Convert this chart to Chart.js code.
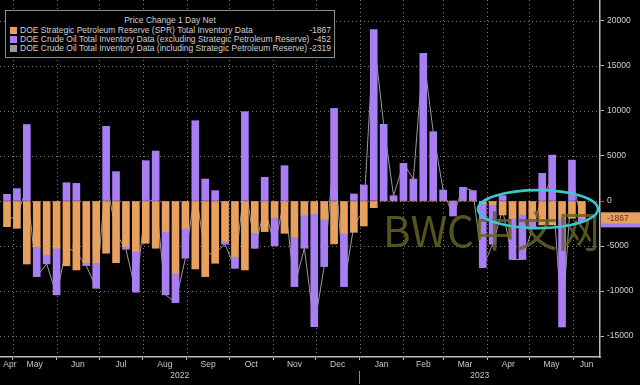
<!DOCTYPE html>
<html>
<head>
<meta charset="utf-8">
<title>DOE inventory change</title>
<script src="https://cdn.jsdelivr.net/npm/chart.js@4.4.0/dist/chart.umd.min.js"></script>
<style>
  html, body { margin: 0; padding: 0; background: #000; }
  #wrap { position: relative; width: 640px; height: 385px; background: #000; }
  #legend {
    position: absolute; left: 5px; top: 10px; width: 328px; height: 46px;
    border: 1px solid #8c8c8c; background: #000; color: #d0d0d0;
    font: 8.5px "Liberation Sans Narrow", "Liberation Sans", sans-serif;
  }
  #legend .title { position: absolute; left: 0; right: 0; top: 5px; text-align: center; line-height: 9px; }
  #legend .row { position: absolute; left: 4px; right: 3px; height: 9px; line-height: 9px; }
  #legend .sw { position: absolute; left: 0; top: 1px; width: 7px; height: 7px; }
  #legend .name { position: absolute; left: 10px; }
  #legend .val { position: absolute; right: 0; }
</style>
</head>
<body>
<div id="wrap">
  <canvas id="inv-chart" width="640" height="385"></canvas>
  <div id="legend"></div>
</div>
<script>
// weekly report dates
const weeks = [
  '2022-04-27', '2022-05-04', '2022-05-11', '2022-05-18', '2022-05-25',
  '2022-06-01', '2022-06-08', '2022-06-15', '2022-06-22', '2022-06-29',
  '2022-07-06', '2022-07-13', '2022-07-20', '2022-07-27', '2022-08-03',
  '2022-08-10', '2022-08-17', '2022-08-24', '2022-08-31', '2022-09-07',
  '2022-09-14', '2022-09-21', '2022-09-28', '2022-10-05', '2022-10-12',
  '2022-10-19', '2022-10-26', '2022-11-02', '2022-11-09', '2022-11-16',
  '2022-11-23', '2022-11-30', '2022-12-07', '2022-12-14', '2022-12-21',
  '2022-12-28', '2023-01-04', '2023-01-11', '2023-01-18', '2023-01-25',
  '2023-02-01', '2023-02-08', '2023-02-15', '2023-02-22', '2023-03-01',
  '2023-03-08', '2023-03-15', '2023-03-22', '2023-03-29', '2023-04-05',
  '2023-04-12', '2023-04-19', '2023-04-26', '2023-05-03', '2023-05-10',
  '2023-05-17', '2023-05-24', '2023-05-31', '2023-06-07'
];

// thousand barrels
const sprChange = [
  -2850, -3030, -7000, -5070, -5920, -5250, -7200, -7660, -6850, -6850,
  -5800, -6850, -5070, -5620, -4700, -5250, -3400, -8030, -3030, -7550,
  -8400, -6920, -4510, -6180, -7660, -3520, -3400, -1810, -3590, -3960,
  -1550, -1370, -2040, -4770, -3590, -3480, -2780, -740, 0, 0,
  0, 0, 0, 0, 0, 0, 0, 0, -300, -400,
  -1550, -1900, -1500, -2100, -2650, -2650, -2000, -1920, -1867
];
const crudeExSpr = [
  740, 1370, 8500, -3330, -1070, -5180, 2030, 1960, -330, -2850,
  8300, 3260, -300, -4510, 4480, 5550, -7030, -3260, -3330, 8920,
  2440, 1150, -300, -1300, 9920, -1740, 2630, -3180, 3920, -5550,
  -3700, -12580, -5250, 10290, -5920, 780, 1780, 19060, 8520, 590,
  4180, 2440, 16400, 7700, 1220, -1670, 1520, 1150, -7100, -4400,
  600, -4600, -5000, -1000, 3070, 5100, -12000, 4550, -452
];
const crudeInclSpr = sprChange.map((v, i) => v + crudeExSpr[i]);

const seriesNames = [
  'DOE Strategic Petroleum Reserve (SPR) Total Inventory Data',
  'DOE Crude Oil Total Inventory Data (excluding Strategic Petroleum Reserve)',
  'DOE Crude Oil Total Inventory Data (including Strategic Petroleum Reserve)'
];
const seriesColors = ['#e8a05e', '#a87ef2', '#9a9a9a'];
const monthNames = ['Apr', 'May', 'Jun', 'Jul', 'Aug', 'Sep', 'Oct', 'Nov', 'Dec',
  'Jan', 'Feb', 'Mar', 'Apr', 'May', 'Jun'];
const yearLabels = ['2022', '2023'];
const yTickValues = [-15000, -10000, -5000, 0, 5000, 10000, 15000, 20000];

const FONT = '"Liberation Sans Narrow", "Liberation Sans", sans-serif';
const GRID = '#7c7c7c';
const DAY = 86400000;
const origin = Date.UTC(2022, 3, 27);
const toDay = (y, m, d) => (Date.UTC(y, m, d) - origin) / DAY;
const parseDay = s => {
  const [y, m, d] = s.split('-').map(Number);
  return toDay(y, m - 1, d);
};

const xMin = -4.94;
const xMax = 418.8;

// month boundaries and centres of the visible part of each month
const monthStarts = [];
const monthCenters = [];
for (let i = 0; i < monthNames.length; i++) {
  const start = toDay(2022, 3 + i, 1);
  const end = toDay(2022, 4 + i, 1);
  if (i > 0) monthStarts.push(start);
  // keep the partial first month label clear of the left edge
  const lo = Math.max(start, xMin);
  const hi = Math.min(end, xMax);
  monthCenters.push(Math.max((lo + hi) / 2, xMin + 7));
}
const jan1 = toDay(2023, 0, 1);
const yearTicks = [(xMin + jan1) / 2, jan1, (jan1 + xMax) / 2];

const pts = arr => arr.map((v, i) => ({ x: parseDay(weeks[i]), y: v }));

const noPad = s => { s.paddingLeft = 0; s.paddingRight = 0; };

const overlay = {
  id: 'overlay',
  beforeDatasetsDraw(chart) {
    // dotted grid at month boundaries and y ticks
    const { ctx, chartArea: a } = chart;
    const x = chart.scales.x;
    const y = chart.scales.y;
    ctx.save();
    ctx.strokeStyle = GRID;
    ctx.lineWidth = 1;
    ctx.setLineDash([1, 3]);
    ctx.beginPath();
    monthStarts.forEach(v => {
      const px = Math.round(x.getPixelForValue(v)) + 0.5;
      ctx.moveTo(px, a.top);
      ctx.lineTo(px, a.bottom);
    });
    yTickValues.forEach(v => {
      const py = Math.round(y.getPixelForValue(v)) + 0.5;
      ctx.moveTo(a.left, py);
      ctx.lineTo(a.right, py);
    });
    ctx.stroke();
    ctx.restore();
  },
  afterDatasetsDraw(chart) {
    const { ctx } = chart;
    const x = chart.scales.x;
    const y = chart.scales.y;
    ctx.save();
    // watermark
    ctx.font = '42px "Noto Sans CJK SC", "Noto Sans", sans-serif';
    ctx.fillStyle = 'rgba(100, 98, 36, 0.85)';
    ctx.textBaseline = 'alphabetic';
    ctx.fillText('BWC中文网', 383, 247);
    // highlight ring
    ctx.beginPath();
    ctx.ellipse(x.getPixelForValue(parseDay('2023-05-07')), y.getPixelForValue(-900),
      60, 19, 0, 0, Math.PI * 2);
    ctx.strokeStyle = '#3ec6ca';
    ctx.lineWidth = 2.6;
    ctx.stroke();
    ctx.restore();
  },
  afterDraw(chart) {
    const { ctx } = chart;
    const y = chart.scales.y;
    const n = weeks.length - 1;
    const left = y.left + 1;
    ctx.save();
    let py = y.getPixelForValue(crudeInclSpr[n]);
    ctx.fillStyle = seriesColors[1];
    ctx.fillRect(left, py - 5.5, chart.width - left, 11);
    py = y.getPixelForValue(sprChange[n]);
    ctx.fillStyle = seriesColors[0];
    ctx.fillRect(left, py - 5.5, chart.width - left, 11);
    ctx.fillStyle = '#5a3a14';
    ctx.font = '8.5px ' + FONT;
    ctx.textBaseline = 'middle';
    ctx.fillText(String(sprChange[n]), left + 6, py + 0.5);
    ctx.restore();
  }
};

const ctx = document.getElementById('inv-chart').getContext('2d');
new Chart(ctx, {
  type: 'bar',
  data: {
    datasets: [
      {
        label: seriesNames[0],
        data: pts(sprChange),
        backgroundColor: seriesColors[0],
        stack: 'inv',
        order: 0,
        barThickness: 7,
        xAxisID: 'x',
        yAxisID: 'y'
      },
      {
        label: seriesNames[1],
        data: pts(crudeExSpr),
        backgroundColor: seriesColors[1],
        stack: 'inv',
        order: 0,
        barThickness: 7,
        xAxisID: 'x',
        yAxisID: 'y'
      },
      {
        type: 'line',
        label: seriesNames[2],
        data: pts(crudeInclSpr),
        borderColor: seriesColors[2],
        borderWidth: 1,
        pointRadius: 0,
        tension: 0,
        stack: 'total',
        order: 1,
        xAxisID: 'x',
        yAxisID: 'y'
      }
    ]
  },
  options: {
    responsive: false,
    animation: false,
    layout: { padding: 0 },
    plugins: { legend: { display: false }, tooltip: { enabled: false } },
    scales: {
      x: {
        type: 'linear', min: xMin, max: xMax, stacked: true, weight: 0, offset: false,
        afterBuildTicks: s => { s.ticks = monthStarts.map(v => ({ value: v })); },
        afterFit: s => { s.height = 3; noPad(s); },
        ticks: { display: false },
        grid: { offset: false, drawOnChartArea: false, tickLength: 3, tickColor: '#bdbdbd' },
        border: { color: '#bdbdbd', width: 1.5 }
      },
      xm: {
        type: 'linear', min: xMin, max: xMax, weight: 1, offset: false,
        afterBuildTicks: s => { s.ticks = monthCenters.map(v => ({ value: v })); },
        afterFit: s => { s.height = 11; noPad(s); },
        ticks: {
          autoSkip: false, maxRotation: 0, padding: 0, color: '#c8c8c8',
          font: { size: 8.5, family: FONT },
          callback: v => monthNames[monthCenters.indexOf(v)]
        },
        grid: { display: false, offset: false, drawTicks: false, tickLength: 0 },
        border: { display: false }
      },
      xy: {
        type: 'linear', min: xMin, max: xMax, weight: 2, offset: false,
        afterBuildTicks: s => { s.ticks = yearTicks.map(v => ({ value: v })); },
        afterFit: s => { s.height = 14; noPad(s); },
        ticks: {
          autoSkip: false, maxRotation: 0, padding: -13, color: '#c8c8c8',
          font: { size: 8.5, family: FONT },
          callback: v => (v === jan1 ? '' : yearLabels[v < jan1 ? 0 : 1])
        },
        grid: {
          offset: false, drawOnChartArea: false, tickLength: 13,
          color: c => (c.tick && c.tick.value === jan1 ? '#8c8c8c' : 'rgba(0,0,0,0)')
        },
        border: { display: false }
      },
      y: {
        position: 'right', min: -17333, max: 22333, stacked: true,
        afterBuildTicks: s => { s.ticks = yTickValues.map(v => ({ value: v })); },
        afterFit: s => { s.width = 40; s.paddingTop = 0; s.paddingBottom = 0; },
        ticks: {
          padding: 3, color: '#cfcfcf',
          font: { size: 8.5, family: FONT },
          callback: v => String(v)
        },
        grid: {
          drawOnChartArea: false, tickLength: 4,
          tickColor: c => (c.tick && c.tick.value === 0 ? '#e04848' : '#bdbdbd')
        },
        border: { color: '#bdbdbd', width: 1.5 }
      }
    }
  },
  plugins: [overlay]
});

// legend box
const legend = document.getElementById('legend');
const lastVals = [sprChange, crudeExSpr, crudeInclSpr].map(a => a[a.length - 1]);
let html = '<div class="title">Price Change 1 Day Net</div>';
seriesNames.forEach((name, i) => {
  html += '<div class="row" style="top:' + (15 + i * 9) + 'px">' +
    '<span class="sw" style="background:' + seriesColors[i] + '"></span>' +
    '<span class="name">' + name + '</span>' +
    '<span class="val">' + lastVals[i] + '</span></div>';
});
legend.innerHTML = html;
</script>
</body>
</html>
